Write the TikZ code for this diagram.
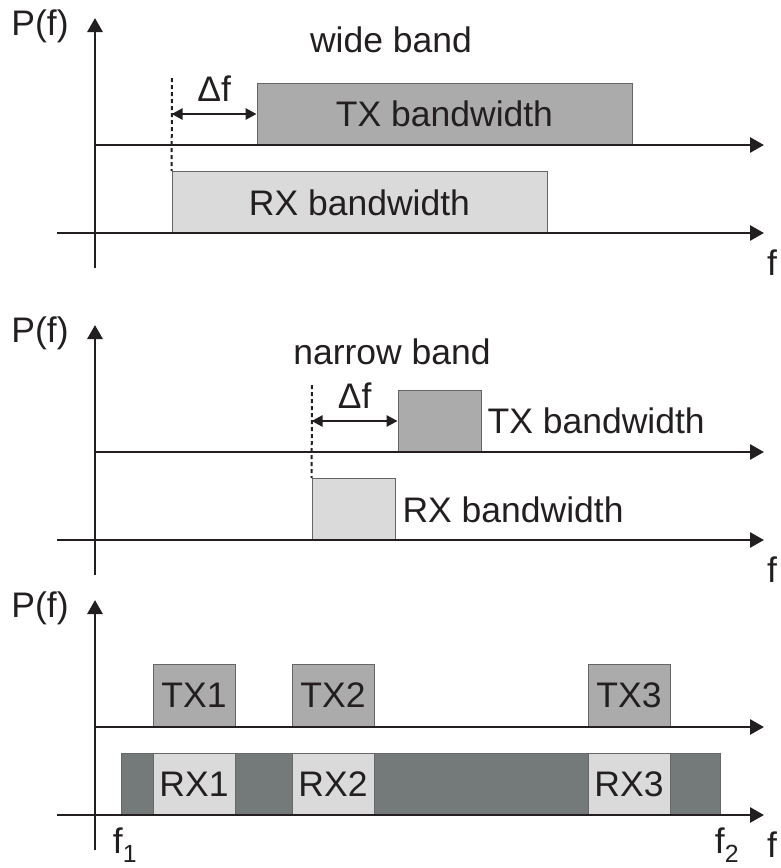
\documentclass[tikz,border=0pt]{standalone}
\usepackage{fontspec}
\setmainfont{Liberation Sans}
\usepackage{xcolor}
\usetikzlibrary{positioning,arrows.meta}

\definecolor{inkgray}{RGB}{35,31,32}
\definecolor{txgray}{RGB}{171,171,171}
\definecolor{rxgray}{RGB}{218,218,218}
\definecolor{bandgray}{RGB}{116,121,121}

\begin{document}
\begin{tikzpicture}[
  x=1pt, y=-1pt,
  every node/.style={font=\fontsize{35.5}{40}\selectfont, text=inkgray, inner sep=0pt},
  txbox/.style={draw=black!60, line width=0.8pt, fill=txgray, minimum width=83pt, minimum height=62pt},
  rxbox/.style={draw=black!60, line width=0.8pt, fill=rxgray, minimum width=83pt, minimum height=62pt},
  bandbox/.style={draw=black!60, line width=0.8pt, fill=bandgray, minimum width=599pt, minimum height=62pt},
  axis/.style={draw=inkgray, line width=2.8pt, -{Triangle[length=14pt,width=15pt]}},
  dashline/.style={draw=inkgray, line width=2pt, dash pattern=on 4pt off 3pt},
  dfarrow/.style={draw=inkgray, line width=2.6pt, {Triangle[length=11pt,width=11pt]}-{Triangle[length=11pt,width=11pt]}},
]
\useasboundingbox (0,0) rectangle (780,868);

% wide band
\node[txbox, minimum width=375pt] (txA) at (444.5,114) {TX bandwidth};
\node[rxbox, minimum width=375pt] (rxA) at (359.5,202.5) {RX bandwidth};
\node (wide) at (391,40) {wide band};
\coordinate (dashA) at (172,78);
\draw[dashline] (dashA) -- (rxA.north west);
\draw[dfarrow] (txA.west -| rxA.west) -- (txA.west) node[midway, above=11pt] (dfA) {Δf};

% narrow band
\node[txbox] (txB) at (439.5,421) {};
\node[rxbox] (rxB) at (353.5,509.5) {};
\node[right=6pt of txB] (txtB) {TX bandwidth};
\node[right=7pt of rxB] (rxtB) {RX bandwidth};
\node (narrow) at (392,352) {narrow band};
\coordinate (dashB) at (312,385);
\draw[dashline] (dashB) -- (rxB.north west);
\draw[dfarrow] (txB.west -| rxB.west) -- (txB.west) node[midway, above=11pt] (dfB) {Δf};

% channels
\node[bandbox] (band) at (420.5,784) {};
\foreach \n/\x in {1/194,2/333,3/629} {
  \node[txbox, minimum width=82pt] (tx\n) at (\x,695) {TX\n};
  \node[rxbox, minimum width=82pt] (rx\n) at (\x,784) {RX\n};
}
\node (fa) at (125,845) {f\textsubscript{1}};
\node (fb) at (727,845) {f\textsubscript{2}};

% axes
\foreach \i/\oy in {1/0,2/307,3/582} {
  \coordinate (yb\i) at (95,268+\oy);
  \coordinate (yt\i) at (95,18+\oy);
  \coordinate (ua\i) at (95,145+\oy);
  \coordinate (ue\i) at (764,145+\oy);
  \coordinate (la\i) at (57,233+\oy);
  \coordinate (le\i) at (764,233+\oy);
  \node (pf\i) at (40,26+\oy) {P(f)};
  \node (f\i) at (772,263+\oy) {f};
  \draw[axis] (yb\i) -- (yt\i);
  \draw[axis] (ua\i) -- (ue\i);
  \draw[axis] (la\i) -- (le\i);
}
\end{tikzpicture}
\end{document}
